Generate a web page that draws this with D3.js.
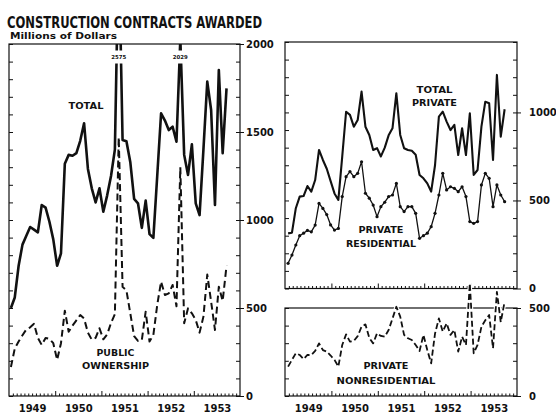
<!DOCTYPE html>
<html><head><meta charset="utf-8">
<script src="https://cdn.jsdelivr.net/npm/d3@7"></script>
<style>
body{margin:0;background:#fff}
svg{display:block}
text{font-family:"DejaVu Sans",sans-serif;fill:#111}
</style>
</head><body>
<svg id="c" width="556" height="413"></svg>
<script>
// ---------------- data (millions of dollars, monthly Jan 1949 - Sep 1953) ----------------
const startYear = 1949;
const years = [1949, 1950, 1951, 1952, 1953];
const totalContracts = [500,560,740,860,910,960,945,930,1085,1070,
  990,890,740,810,1320,1370,1365,1380,1450,1550,
  1290,1180,1100,1180,1047,1140,1250,1400,2575,1455,
  1448,1330,1120,1095,955,1110,920,898,1250,1606,
  1565,1511,1530,1445,2029,1370,1256,1430,1095,1028,
  1400,1786,1625,1085,1852,1379,1748];
const publicOwnership = [165,270,310,345,378,390,410,330,290,330,
  325,300,205,300,485,365,400,430,460,440,
  360,320,330,385,322,350,415,465,1470,620,
  600,470,340,313,318,479,309,347,517,650,
  574,583,631,510,1300,413,498,470,432,360,
  451,690,536,375,621,540,740];
const totalPrivate = [313,317,456,522,525,582,550,616,787,730,
  680,610,540,503,749,1004,986,919,957,1118,
  919,872,787,797,750,800,870,910,1109,872,
  797,787,782,760,645,626,597,550,700,976,
  1004,948,900,929,758,910,758,995,645,673,
  919,1061,1052,730,1213,862,1018];
const privateResidential = [143,190,247,300,314,330,322,360,483,455,
  420,361,332,341,522,635,664,635,654,720,
  541,513,474,408,465,490,522,531,597,465,
  437,465,465,427,285,300,314,351,427,531,
  654,560,578,569,550,578,522,380,370,380,
  588,654,626,465,588,531,493];
const privateNonresidential = [167,205,243,233,210,233,233,256,299,261,
  252,230,205,167,290,350,309,313,340,394,
  407,330,299,356,341,337,375,440,507,451,
  347,328,318,290,256,347,261,186,355,441,
  366,413,347,375,252,337,290,640,243,290,
  394,430,460,271,592,420,536];
const leftTickLabels = [0, 500, 1000, 1500, 2000];
const topRightTickLabels = [0, 500, 1000];
const bottomRightTickLabels = [0, 500];
const spikeMonths = [28, 44]; // months whose total runs off the chart, value printed

// ---------------- layout ----------------
const ink = "#111";
const svg = d3.select("#c");
const xL = d3.scaleLinear().domain([1949, 1954]).range([9, 240]);
const yL = d3.scaleLinear().domain([0, 2000]).range([396, 44]);
const xR = d3.scaleLinear().domain([1949, 1954]).range([285, 517]);
const yRT = d3.scaleLinear().domain([0, 1400]).range([288.5, 42]);
const yRB = d3.scaleLinear().domain([0, 500]).range([396, 308]);
const tL = i => startYear + (i + 0.5) / 12;
const tR = i => startYear + (i + 0.8) / 12;

// title
svg.append("text").attr("x", 7).attr("y", 28)
  .attr("font-family", "DejaVu Sans Condensed").attr("font-weight", "bold")
  .attr("font-size", 16).attr("textLength", 255).attr("lengthAdjust", "spacingAndGlyphs")
  .text("CONSTRUCTION  CONTRACTS  AWARDED");
svg.append("text").attr("x", 10).attr("y", 38.5)
  .attr("font-weight", "bold").attr("font-size", 9)
  .attr("textLength", 107).attr("lengthAdjust", "spacingAndGlyphs")
  .text("Millions of Dollars");

// defs / clips
const defs = svg.append("defs");
function clip(id, x, y) {
  defs.append("clipPath").attr("id", id).append("rect")
    .attr("x", x.range()[0]).attr("y", y.range()[1])
    .attr("width", x.range()[1] - x.range()[0]).attr("height", y.range()[0] - y.range()[1]);
}
clip("cl", xL, yL); clip("crt", xR, yRT);

function frame(x, y) {
  svg.append("rect").attr("x", x.range()[0]).attr("y", y.range()[1])
    .attr("width", x.range()[1] - x.range()[0]).attr("height", y.range()[0] - y.range()[1])
    .attr("fill", "none").attr("stroke", ink).attr("stroke-width", 1.2);
}

function styleAxis(g) {
  g.select(".domain").remove();
  g.selectAll("line").attr("stroke", ink).attr("stroke-width", 1);
  g.selectAll("text").attr("fill", ink);
}

function yAxes(x, y, maxV, labels, padR) {
  const x0 = x.range()[0], x1 = x.range()[1];
  const all = d3.range(0, maxV + 1, 100);
  svg.append("g").attr("transform", `translate(${x0},0)`)
    .call(d3.axisLeft(y).tickValues(all).tickSize(-4).tickFormat("")).call(styleAxis);
  svg.append("g").attr("transform", `translate(${x1},0)`)
    .call(d3.axisRight(y).tickValues(all).tickSize(-4).tickFormat("")).call(styleAxis);
  const g = svg.append("g").attr("transform", `translate(${x1},0)`)
    .call(d3.axisRight(y).tickValues(labels).tickSize(4).tickPadding(padR).tickFormat(d3.format("d")))
    .call(styleAxis);
  g.selectAll("text").attr("font-family", "DejaVu Sans Condensed").attr("font-weight", "bold")
    .attr("font-size", 10);
}

function xAxes(x, y0, withLabels) {
  const months = d3.range(0, 60).filter(m => m % 12 !== 0).map(m => startYear + m / 12);
  svg.append("g").attr("transform", `translate(0,${y0})`)
    .call(d3.axisBottom(x).tickValues(months).tickSize(-2.5).tickFormat("")).call(styleAxis);
  svg.append("g").attr("transform", `translate(0,${y0})`)
    .call(d3.axisBottom(x).tickValues(years.slice(1)).tickSize(-5).tickFormat("")).call(styleAxis);
  if (withLabels) {
    const g = svg.append("g").attr("transform", `translate(0,${y0})`)
      .call(d3.axisBottom(x).tickValues(years.map(d => d + 0.5)).tickSize(0).tickPadding(9)
        .tickFormat(d => Math.floor(d))).call(styleAxis);
    g.selectAll("text").attr("font-family", "DejaVu Sans Condensed").attr("font-weight", "bold")
      .attr("font-size", 10);
  }
}

function label(lines, cx, baselines, widths, size) {
  lines.forEach((t, k) => {
    svg.append("text").attr("x", cx).attr("y", baselines[k]).attr("text-anchor", "middle")
      .attr("font-weight", "bold").attr("font-size", size || 8.5)
      .attr("textLength", widths[k]).attr("lengthAdjust", "spacingAndGlyphs").text(t);
  });
}

// ---------------- left panel ----------------
frame(xL, yL);
yAxes(xL, yL, 2000, leftTickLabels, 2);
xAxes(xL, 396, true);

const lineL = (vals) => d3.line().x((d, i) => xL(tL(i))).y(d => yL(d))(vals);
const gl = svg.append("g").attr("clip-path", "url(#cl)");
gl.append("path").attr("d", lineL(publicOwnership)).attr("fill", "none").attr("stroke", ink)
  .attr("stroke-width", 2).attr("stroke-dasharray", "7,4").attr("stroke-linejoin", "round");
gl.append("path").attr("d", lineL(totalContracts)).attr("fill", "none").attr("stroke", ink)
  .attr("stroke-width", 2.6).attr("stroke-linejoin", "round");

spikeMonths.forEach(i => {
  const cx = xL(tL(i));
  svg.append("rect").attr("x", cx - 8).attr("y", yL(2000) + 6.5).attr("width", 16).attr("height", 13)
    .attr("fill", "#fff");
  svg.append("text").attr("x", cx).attr("y", yL(2000) + 14.7).attr("text-anchor", "middle")
    .attr("font-weight", "bold").attr("font-size", 5.5).attr("textLength", 15)
    .attr("lengthAdjust", "spacingAndGlyphs").text(String(totalContracts[i]));
});

label(["TOTAL"], 86, [109], [35], 8.5);
label(["PUBLIC", "OWNERSHIP"], 115.5, [356, 368.5], [38, 67], 8.5);

// ---------------- right top panel ----------------
frame(xR, yRT);
yAxes(xR, yRT, 1400, topRightTickLabels, 8);
xAxes(xR, yRT.range()[0], false);
const lineRT = (vals) => d3.line().x((d, i) => xR(tR(i))).y(d => yRT(d))(vals);
const grt = svg.append("g").attr("clip-path", "url(#crt)");
grt.append("path").attr("d", lineRT(privateResidential)).attr("fill", "none").attr("stroke", ink)
  .attr("stroke-width", 1.3).attr("stroke-linejoin", "round");
grt.selectAll("circle").data(privateResidential).join("circle")
  .attr("cx", (d, i) => xR(tR(i))).attr("cy", d => yRT(d)).attr("r", 1.6).attr("fill", ink);
grt.append("path").attr("d", lineRT(totalPrivate)).attr("fill", "none").attr("stroke", ink)
  .attr("stroke-width", 2.1).attr("stroke-linejoin", "round");
label(["TOTAL", "PRIVATE"], 434.5, [93.3, 106], [36, 45], 8.5);
label(["PRIVATE", "RESIDENTIAL"], 381, [233.3, 246.7], [45, 70], 8.5);

// ---------------- right bottom panel ----------------
frame(xR, yRB);
yAxes(xR, yRB, 500, bottomRightTickLabels, 8);
xAxes(xR, 396, true);
const lineRB = d3.line().x((d, i) => xR(tR(i))).y(d => yRB(d));
svg.append("path").attr("d", lineRB(privateNonresidential)).attr("fill", "none").attr("stroke", "#fff")
  .attr("stroke-width", 4).attr("stroke-linejoin", "round");
svg.append("path").attr("d", lineRB(privateNonresidential)).attr("fill", "none").attr("stroke", ink)
  .attr("stroke-width", 1.8).attr("stroke-dasharray", "6,3").attr("stroke-linejoin", "round");
label(["PRIVATE", "NONRESIDENTIAL"], 386, [369.3, 384], [45, 99], 8.5);
</script>
</body></html>
